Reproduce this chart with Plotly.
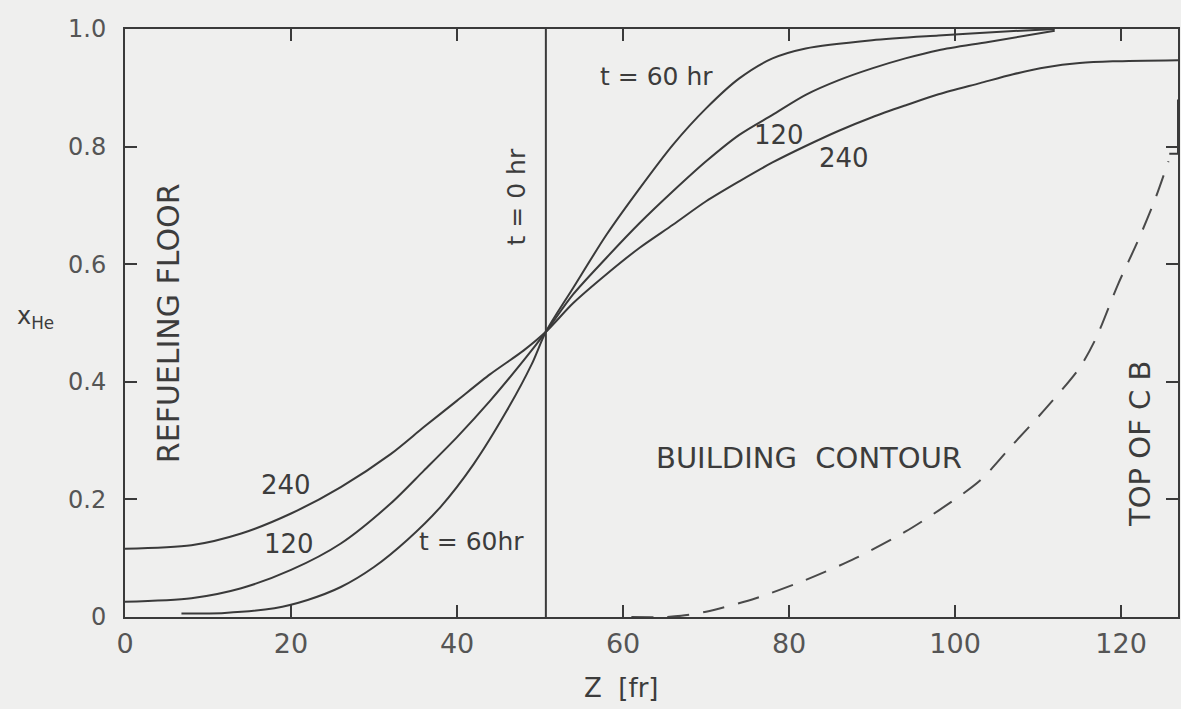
import plotly.graph_objects as go

# ---- data ----
z_60 = [6.8, 12, 18, 22, 26, 30, 34, 38, 42, 46, 49, 50.7, 54, 58, 62, 66, 70, 74, 78, 82, 90, 98, 105, 112]
x_60 = [0.006, 0.007, 0.015, 0.029, 0.051, 0.085, 0.131, 0.187, 0.26, 0.351, 0.43, 0.485,
        0.56, 0.65, 0.729, 0.803, 0.865, 0.916, 0.95, 0.967, 0.981, 0.989, 0.995, 1.0]

z_120 = [0, 8, 14, 20, 26, 32, 36, 40, 44, 48, 50.7, 54, 58, 62, 66, 70, 74, 78, 82, 86, 90, 94, 98, 104, 112]
x_120 = [0.026, 0.032, 0.049, 0.08, 0.125, 0.193, 0.249, 0.306, 0.368, 0.436, 0.485,
         0.549, 0.611, 0.67, 0.724, 0.775, 0.82, 0.854, 0.888, 0.913, 0.933, 0.95, 0.964, 0.978, 0.997]

z_240 = [0, 8, 14, 20, 26, 32, 36, 40, 44, 48, 50.7, 54, 58, 62, 66, 70, 74, 78, 82, 86, 90, 94, 98,
         103, 107, 111, 115, 119, 126.9]
x_240 = [0.116, 0.122, 0.142, 0.176, 0.221, 0.277, 0.323, 0.368, 0.413, 0.453, 0.485,
         0.534, 0.583, 0.628, 0.667, 0.707, 0.741, 0.773, 0.801, 0.827, 0.850, 0.870, 0.889,
         0.908, 0.923, 0.935, 0.942, 0.945, 0.947]

z_contour = [61, 65, 67, 70, 76, 82, 88, 94, 98, 103, 107, 111, 115, 117, 119.6, 122, 124, 125.7]
x_contour = [0, 0, 0.002, 0.009, 0.032, 0.063, 0.10, 0.145, 0.181, 0.232, 0.294, 0.356,
             0.424, 0.475, 0.565, 0.639, 0.707, 0.775]

z_hook = [125.8, 126.85, 126.85]
x_hook = [0.788, 0.788, 0.88]

z_t0 = [50.7, 50.7]
x_t0 = [0.0, 1.0]

x_ticks = [0, 20, 40, 60, 80, 100, 120]
x_ticktext = ["0", "20", "40", "60", "80", "100", "120"]
y_ticks = [0, 0.2, 0.4, 0.6, 0.8, 1.0]
y_ticktext = ["0", "0.2", "0.4", "0.6", "0.8", "1.0"]

LINE = "#3a3a3a"
TEXT = "#3c3c3c"
BG = "#efefee"
FONT = "DejaVu Sans"

fig = go.Figure()
for zz, xx in [(z_60, x_60), (z_120, x_120), (z_240, x_240)]:
    fig.add_trace(go.Scatter(x=zz, y=xx, mode="lines",
                             line=dict(color=LINE, width=2, shape="spline", smoothing=0.8),
                             showlegend=False, hoverinfo="skip"))
fig.add_trace(go.Scatter(x=z_contour, y=x_contour, mode="lines",
                         line=dict(color="#4a4a4a", width=2, dash="22px,14px", shape="spline", smoothing=0.8),
                         showlegend=False, hoverinfo="skip"))
fig.add_trace(go.Scatter(x=z_hook, y=x_hook, mode="lines",
                         line=dict(color=LINE, width=2), showlegend=False, hoverinfo="skip"))
fig.add_trace(go.Scatter(x=z_t0, y=x_t0, mode="lines",
                         line=dict(color=LINE, width=2), showlegend=False, hoverinfo="skip"))

def ann(text, x, y, size=26, angle=0, xref="x", yref="y", xanchor="center"):
    fig.add_annotation(text=text, x=x, y=y, xref=xref, yref=yref, showarrow=False,
                       textangle=angle, xanchor=xanchor, yanchor="middle",
                       font=dict(family=FONT, size=size, color=TEXT))

ann("REFUELING FLOOR", 5.2, 0.50, size=30, angle=-90)
ann("t = 0 hr", 47.2, 0.715, size=25, angle=-90)
ann("t = 60 hr", 64.0, 0.919, size=25)
ann("120", 78.8, 0.82, size=26)
ann("240", 86.6, 0.781, size=26)
ann("240", 19.4, 0.225, size=26)
ann("120", 19.7, 0.125, size=26)
ann("t = 60hr", 41.8, 0.129, size=25)
ann("BUILDING  CONTOUR", 82.4, 0.27, size=29)
ann("TOP OF C B", 122.2, 0.295, size=29, angle=-90)
ann("x<sub>He</sub>", -0.104, 0.51, size=24, xref="paper", yref="paper", xanchor="left")
ann("Z  [fr]", 0.471, -0.121, size=26, xref="paper", yref="paper")

axis_common = dict(showline=True, linecolor=LINE, linewidth=2, mirror="ticks",
                   ticks="inside", ticklen=12, tickwidth=2, tickcolor=LINE,
                   showgrid=False, zeroline=False)

fig.update_xaxes(range=[0, 126.85], tickvals=x_ticks, ticktext=x_ticktext, ticklabelstandoff=2,
                 tickfont=dict(family=FONT, size=27, color="#555555"), **axis_common)
fig.update_yaxes(range=[0, 1], tickvals=y_ticks, ticktext=y_ticktext, ticklabelstandoff=12,
                 tickfont=dict(family=FONT, size=24, color="#555555"), **axis_common)

fig.update_layout(width=1181, height=709, margin=dict(l=125, r=1, t=29, b=92),
                  paper_bgcolor=BG, plot_bgcolor=BG, showlegend=False)

fig.write_html("out.html")
